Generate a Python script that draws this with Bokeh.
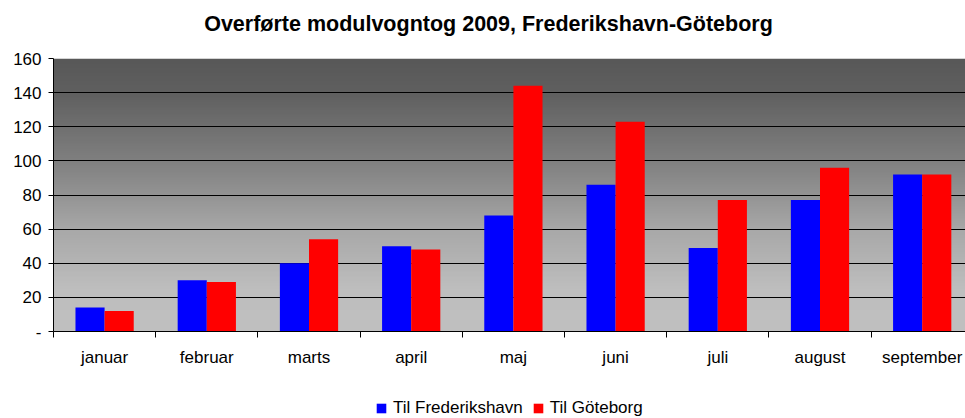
import numpy as np
from bokeh.plotting import figure
from bokeh.layouts import column
from bokeh.models import (FixedTicker, Legend, LegendItem, ColumnDataSource, Range1d, Label)
from bokeh.transform import dodge
from bokeh.embed import file_html
from bokeh.resources import INLINE

# ---- data ----
title_text = "Overførte modulvogntog 2009, Frederikshavn-Göteborg"
months = ["januar", "februar", "marts", "april", "maj", "juni", "juli", "august", "september"]
til_frederikshavn = [14, 30, 40, 50, 68, 86, 49, 77, 92]
til_goteborg = [12, 29, 54, 48, 144, 123, 77, 96, 92]
y_ticks = [0, 20, 40, 60, 80, 100, 120, 140, 160]
y_labels = ["-", "20", "40", "60", "80", "100", "120", "140", "160"]
series_names = ["Til Frederikshavn", "Til Göteborg"]
series_colors = ["#0000ff", "#ff0000"]

FONT = "Liberation Sans"
W = 965
H_TITLE, H_LEG = 40, 26
H_MAIN = 418 - H_TITLE - H_LEG
LEFT, RIGHT = 53, 0
TOP = 58 - H_TITLE
BOTTOM = (H_TITLE + H_MAIN) - 331
cat_px = 102.2
x_end = (W - LEFT - RIGHT) / cat_px

# ---- title strip (frame aligned with main plot by the column layout) ----
pt = figure(width=W, height=H_TITLE, output_backend="svg", toolbar_location=None,
            x_axis_type=None, y_axis_type=None, min_border=0,
            x_range=Range1d(LEFT, W - RIGHT), y_range=Range1d(0, H_TITLE))
pt.outline_line_color = None
pt.grid.grid_line_color = None
pt.add_layout(Label(x=488, y=H_TITLE - 23, text=title_text, text_align="center",
                    text_baseline="middle", text_font=FONT, text_font_size="21.5px",
                    text_font_style="bold", text_color="black"))

# ---- main plot ----
p = figure(width=W, height=H_MAIN, output_backend="svg", toolbar_location=None,
           x_range=Range1d(0, x_end), y_range=Range1d(0, 160),
           min_border_left=LEFT, min_border_right=RIGHT,
           min_border_top=TOP, min_border_bottom=BOTTOM)
p.outline_line_color = None
p.border_fill_color = "white"

# gradient background of plot area
stops_v = [0, 25, 60, 100, 140, 160]
stops_c = [192, 190, 168, 128, 96, 88]
rows = 160
vals = np.interp(np.linspace(0, 160, rows), stops_v, stops_c).astype(np.uint32)
img = ((255 << 24) | (vals << 16) | (vals << 8) | vals).reshape(rows, 1).astype(np.uint32)
p.image_rgba(image=[img], x=0, y=0, dw=x_end, dh=160, level="image")

# bars
centers = [i + 0.5 for i in range(len(months))]
bw = 0.285
src = ColumnDataSource(dict(x=centers, fr=til_frederikshavn, go=til_goteborg))
p.vbar(x=dodge("x", -bw / 2), top="fr", width=bw, source=src,
       fill_color=series_colors[0], line_color=None)
p.vbar(x=dodge("x", bw / 2), top="go", width=bw, source=src,
       fill_color=series_colors[1], line_color=None)

# axes
p.yaxis.ticker = FixedTicker(ticks=y_ticks)
p.yaxis.major_label_overrides = {t: l for t, l in zip(y_ticks, y_labels)}
p.yaxis.major_label_text_font = FONT
p.yaxis.major_label_text_font_size = "17px"
p.yaxis.major_label_text_color = "black"
p.yaxis.major_tick_out = 5
p.yaxis.major_tick_in = 0
p.yaxis.minor_tick_line_color = None
p.yaxis.major_label_standoff = 7
p.yaxis.axis_line_color = "black"
p.yaxis.major_tick_line_color = "black"

p.xaxis.ticker = FixedTicker(ticks=centers, minor_ticks=list(range(len(months) + 1)))
p.xaxis.major_label_overrides = {c: m for c, m in zip(centers, months)}
p.xaxis.major_label_text_font = FONT
p.xaxis.major_label_text_font_size = "17px"
p.xaxis.major_label_text_color = "black"
p.xaxis.major_tick_out = 0
p.xaxis.major_tick_in = 0
p.xaxis.minor_tick_out = 6
p.xaxis.minor_tick_in = 0
p.xaxis.minor_tick_line_color = "black"
p.xaxis.major_label_standoff = 10
p.xaxis.axis_line_color = "black"

p.xgrid.grid_line_color = None
p.ygrid.ticker = FixedTicker(ticks=y_ticks[1:-1])
p.ygrid.grid_line_color = "black"
p.ygrid.grid_line_width = 1

# ---- legend strip ----
p2 = figure(width=W, height=H_LEG, output_backend="svg", toolbar_location=None,
            x_axis_type=None, y_axis_type=None, min_border=0,
            x_range=Range1d(0, 1), y_range=Range1d(0, 1))
p2.outline_line_color = None
p2.grid.grid_line_color = None
lr = []
for name, col in zip(series_names, series_colors):
    # swatch renderers kept outside the visible range; only used for the legend
    lr.append(p2.vbar(x=[10], top=[1], width=0.1, fill_color=col, line_color=None))
legend = Legend(items=[LegendItem(label=n, renderers=[r]) for n, r in zip(series_names, lr)],
                orientation="horizontal", location=(322, 0))
legend.label_text_font = FONT
legend.label_text_font_size = "17px"
legend.label_text_color = "black"
legend.glyph_width = 12
legend.glyph_height = 12
legend.label_standoff = 6
legend.spacing = 9
legend.padding = 0
legend.margin = 0
legend.border_line_color = None
legend.background_fill_alpha = 0
p2.add_layout(legend, "center")

layout = column(pt, p, p2, spacing=0)
open("out.html", "w").write(file_html(layout, INLINE))
